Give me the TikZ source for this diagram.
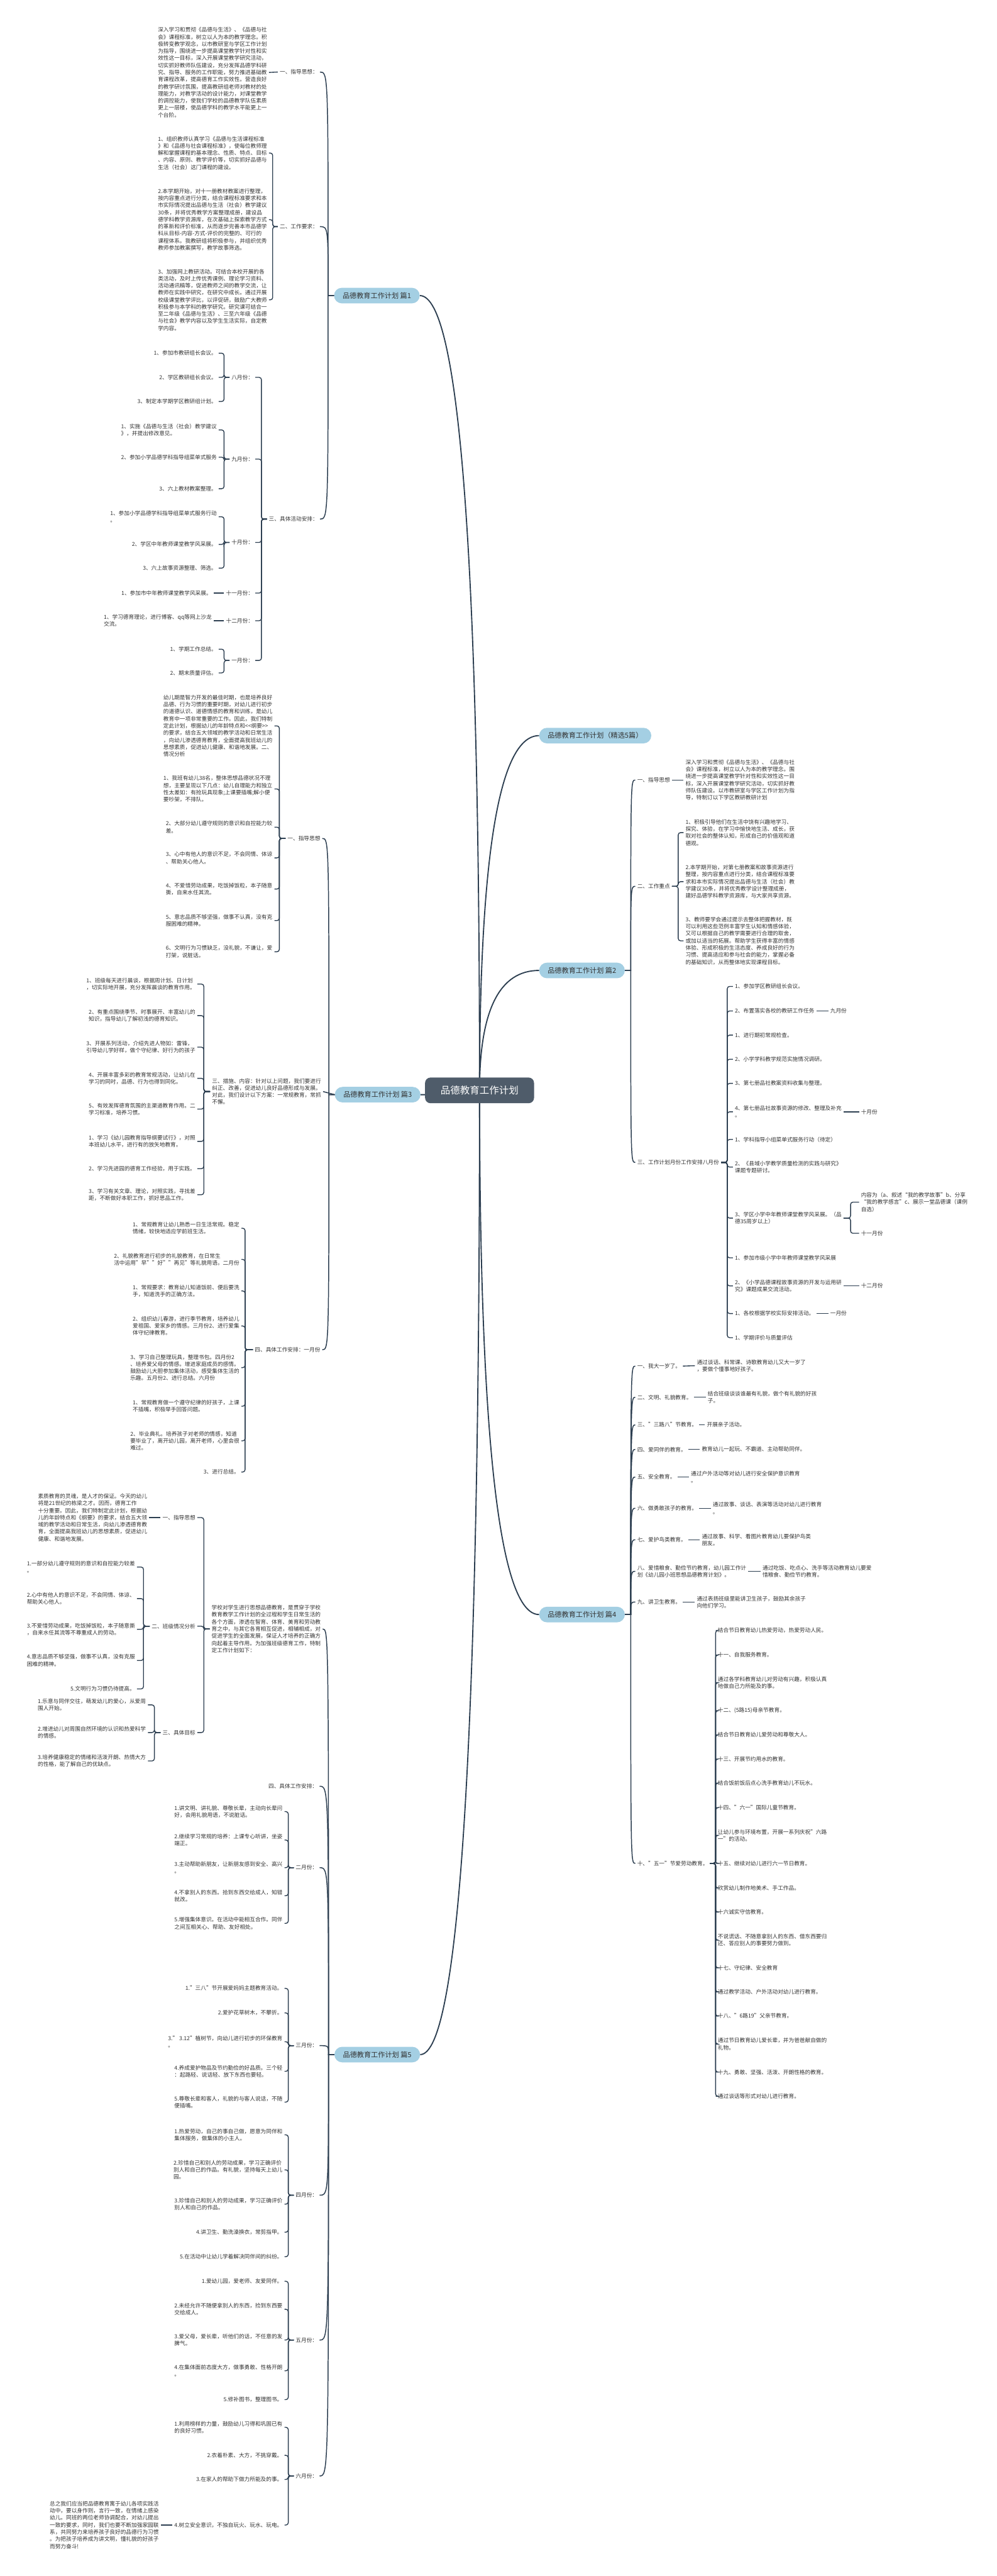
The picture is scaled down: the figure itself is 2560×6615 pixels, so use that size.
\documentclass[tikz,border=0pt]{standalone}
\usepackage{fontspec}
\setmainfont{Noto Sans CJK SC}
\usepackage{tikz}
\usetikzlibrary{backgrounds,calc}
\definecolor{clrRoot}{RGB}{79,92,106}
\definecolor{clrBranch}{RGB}{164,207,227}
\definecolor{clrLine}{RGB}{44,62,80}
\definecolor{clrTxt}{RGB}{51,51,51}
\tikzset{
  root/.style={rectangle,rounded corners=14pt,fill=clrRoot,text=white,
    font=\fontsize{25}{30}\selectfont,inner xsep=40pt,minimum height=66pt},
  branch/.style={rectangle,rounded corners=20pt,fill=clrBranch,text=clrTxt,
    font=\fontsize{18}{22}\selectfont,inner xsep=22pt,minimum height=40pt},
  topic/.style={font=\fontsize{14}{18.2}\selectfont,text=clrTxt,inner sep=5pt,align=left},
  lnote/.style={topic,anchor=east},
  rnote/.style={topic,anchor=west},
  mainlink/.style={draw=clrLine,line width=3pt},
  link/.style={draw=clrLine,line width=2.4pt},
  elbow/.style={draw=clrLine,line width=2.2pt,rounded corners=6pt}
}
\begin{document}
\begin{tikzpicture}[x=1pt,y=1pt]
  \useasboundingbox (0,0) rectangle (2560,-6615);
  \node[root] (root) at (1232,-2800) {品德教育工作计划};
  \node[branch,anchor=west] (p1) at (858,-759) {品德教育工作计划 篇1};
  \node[branch,anchor=west] (p3) at (860,-2811) {品德教育工作计划 篇3};
  \node[branch,anchor=west] (p5) at (859,-5276) {品德教育工作计划 篇5};
  \node[branch,anchor=west] (p0) at (1385,-1889) {品德教育工作计划（精选5篇）};
  \node[branch,anchor=west] (p2) at (1385,-2492) {品德教育工作计划 篇2};
  \node[branch,anchor=west] (p4) at (1385,-4146) {品德教育工作计划 篇4};
  \path (p1.west) ++(-15,0) coordinate (s1);
  \path (p3.west) ++(-15,0) coordinate (s3);
  \path (p5.west) ++(-15,0) coordinate (s5);
  \path (p2.east) ++(15,0) coordinate (s2);
  \path (p4.east) ++(15,0) coordinate (s4);

  % 篇1
  \node[lnote] (p1a) at (822,-185) {一、指导思想：};
  \node[lnote] (p1a1) at (691,-186) {深入学习和贯彻《品德与生活》、《品德与社\\会》课程标准，树立以人为本的教学理念。积\\极转变教学观念，以市教研室与学区工作计划\\为指导，围绕进一步提高课堂教学针对性和实\\效性这一目标，深入开展课堂教学研究活动，\\切实抓好教师队伍建设，充分发挥品德学科研\\究、指导、服务的工作职能，努力推进基础教\\育课程改革，提高德育工作实效性。营造良好\\的教学研讨氛围，提高教研组老师对教材的处\\理能力，对教学活动的设计能力，对课堂教学\\的调控能力，使我们学校的品德教学队伍素质\\更上一层楼，使品德学科的教学水平能更上一\\个台阶。};
  \node[lnote] (p1b) at (822,-582) {二、工作要求：};
  \node[lnote] (p1b1) at (691,-393) {1、组织教师认真学习《品德与生活课程标准\\》和《品德与社会课程标准》，使每位教师理\\解和掌握课程的基本理念、性质、特点、目标\\、内容、原则、教学评价等，切实抓好品德与\\生活（社会）这门课程的建设。};
  \node[lnote] (p1b2) at (691,-564) {2.本学期开始，对十一册教材教案进行整理，\\按内容重点进行分类，结合课程标准要求和本\\市实际情况提出品德与生活（社会）教学建议\\30条，并将优秀教学方案整理成册，建设品\\德学科教学资源库，在次基础上探索教学方式\\的革新和评价标准，从而逐步完善本市品德学\\科从目标-内容-方式-评价的完整的、可行的\\课程体系。我教研组将积极参与，并组织优秀\\教师参加教案撰写，教学故事筛选。};
  \node[lnote] (p1b3) at (691,-770) {3、加强网上教研活动。可结合本校开展的各\\类活动，及时上传优秀课例、理论学习资料、\\活动通讯稿等，促进教师之间的教学交流，让\\教师在实践中研究，在研究中成长。通过开展\\校级课堂教学评比，以评促研，鼓励广大教师\\积极参与本学科的教学研究。研究课可结合一\\至二年级《品德与生活》、三至六年级《品德\\与社会》教学内容以及学生生活实际，自定教\\学内容。};
  \node[lnote] (p1c) at (822,-1333) {三、具体活动安排：};
  \node[lnote] (p1m8) at (656,-969) {八月份：};
  \node[lnote] (p1m9) at (656,-1179) {九月份：};
  \node[lnote] (p1m10) at (656,-1393) {十月份：};
  \node[lnote] (p1m11) at (656,-1523) {十一月份：};
  \node[lnote] (p1m12) at (656,-1594) {十二月份：};
  \node[lnote] (p1m1) at (656,-1696) {一月份：};
  \node[lnote] (p1m8a) at (562,-907) {1、参加市教研组长会议。};
  \node[lnote] (p1m8b) at (562,-969) {2、学区教研组长会议。};
  \node[lnote] (p1m8c) at (562,-1031) {3、制定本学期学区教研组计划。};
  \node[lnote] (p1m9a) at (562,-1104) {1、实施《品德与生活（社会）教学建议\\》，并提出修改意见。};
  \node[lnote] (p1m9b) at (562,-1174) {2、参加小学品德学科指导组菜单式服务};
  \node[lnote] (p1m9c) at (562,-1255) {3、六上教材教案整理。};
  \node[lnote] (p1m10a) at (562,-1327) {1、参加小学品德学科指导组菜单式服务行动\\。};
  \node[lnote] (p1m10b) at (562,-1398) {2、学区中年教师课堂教学风采展。};
  \node[lnote] (p1m10c) at (562,-1459) {3、六上故事资源整理、筛选。};
  \node[lnote] (p1m11a) at (549,-1523) {1、参加市中年教师课堂教学风采展。};
  \node[lnote] (p1m12a) at (549,-1594) {1、学习德育理论，进行博客、qq等网上沙龙\\交流。};
  \node[lnote] (p1m1a) at (562,-1667) {1、学期工作总结。};
  \node[lnote] (p1m1b) at (562,-1728) {2、期末质量评估。};

  % 篇3
  \node[lnote] (p3a) at (828,-2153) {一、指导思想};
  \node[lnote] (p3a1) at (705,-1864) {幼儿期是智力开发的最佳时期，也是培养良好\\品德、行为习惯的重要时期，对幼儿进行初步\\的道德认识、道德情感的教育和训练，是幼儿\\教育中一项非常重要的工作。因此，我们特制\\定此计划，根据幼儿的年龄特点和<{}<纲要>{}>\\的要求，结合五大领域的教学活动和日常生活\\，向幼儿渗透德育教育，全面提高我班幼儿的\\思想素质，促进幼儿健康、和谐地发展。二、\\情况分析};
  \node[lnote] (p3a2) at (705,-2026) {1、我班有幼儿38名，整体思想品德状况不理\\想，主要呈现以下几点：幼儿自理能力和独立\\性太差如：有抢玩具现象;上课要插嘴;解小便\\要吵架，不排队。};
  \node[lnote] (p3a3) at (705,-2124) {2、大部分幼儿遵守规则的意识和自控能力较\\差。};
  \node[lnote] (p3a4) at (705,-2203) {3、心中有他人的意识不足，不会同情、体谅\\、帮助关心他人。};
  \node[lnote] (p3a5) at (705,-2283) {4、不爱惜劳动成果，吃饭掉饭粒，本子随意\\撕，自来水任其流。};
  \node[lnote] (p3a6) at (705,-2364) {5、意志品质不够坚强，做事不认真，没有克\\服困难的精神。};
  \node[lnote] (p3a7) at (705,-2444) {6、文明行为习惯缺乏，没礼貌，不谦让，爱\\打架，说脏话。};
  \node[lnote] (p3b) at (830,-2803) {三、措施、内容：针对以上问题，我们要进行\\纠正、改善，促进幼儿良好品德形成与发展。\\对此，我们设计以下方案：一常规教育，常抓\\不懈。};
  \node[lnote] (p3b1) at (507,-2527) {1、班级每天进行晨谈，根据周计划、日计划\\，切实际地开展，充分发挥晨谈的教育作用。};
  \node[lnote] (p3b2) at (507,-2608) {2、有重点围绕季节、时事展开、丰富幼儿的\\知识，指导幼儿了解初浅的德育知识。};
  \node[lnote] (p3b3) at (507,-2689) {3、开展系列活动，介绍先进人物如：雷锋，\\引导幼儿学好样，做个守纪律、好行为的孩子};
  \node[lnote] (p3b4) at (507,-2769) {4、开展丰富多彩的教育常规活动，让幼儿在\\学习的同时，品德、行为也得到同化。};
  \node[lnote] (p3b5) at (507,-2848) {5、有效发挥德育氛围的主渠道教育作用。二\\学习标准，培养习惯。};
  \node[lnote] (p3b6) at (507,-2931) {1、学习《幼儿园教育指导纲要试行》，对照\\本班幼儿水平，进行有的放矢地教育。};
  \node[lnote] (p3b7) at (507,-3001) {2、学习先进园的德育工作经验，用于实践。};
  \node[lnote] (p3b8) at (507,-3068) {3、学习有关文章、理论，对照实践，寻找差\\距，不断做好本职工作，抓好思品工作。};
  \node[lnote] (p3c) at (828,-3466) {四、具体工作安排：一月份};
  \node[lnote] (p3c1) at (620,-3154) {1、常规教育让幼儿熟悉一日生活常规。稳定\\情绪，较快地适应学前班生活。};
  \node[lnote] (p3c2) at (620,-3234) {2、礼貌教育进行初步的礼貌教育，在日常生\\活中运用"早""好""再见"等礼貌用语。二月份};
  \node[lnote] (p3c3) at (620,-3315) {1、常规要求：教育幼儿知道饭前、便后要洗\\手，知道洗手的正确方法。};
  \node[lnote] (p3c4) at (620,-3405) {2、组织幼儿春游，进行季节教育，培养幼儿\\爱祖国、爱家乡的情感。三月份2、进行爱集\\体守纪律教育。};
  \node[lnote] (p3c5) at (620,-3512) {3、学习自己整理玩具，整理书包。四月份2\\、培养爱父母的情感。增进家庭成员的感情。\\鼓励幼儿大胆参加集体活动，感受集体生活的\\乐趣。五月份2、进行总结。六月份};
  \node[lnote] (p3c6) at (620,-3611) {1、常规教育做一个遵守纪律的好孩子，上课\\不插嘴，积极举手回答问题。};
  \node[lnote] (p3c7) at (620,-3700) {2、毕业典礼。培养孩子对老师的情感，知道\\要毕业了，离开幼儿园，离开老师，心里会很\\难过。};
  \node[lnote] (p3c8) at (620,-3780) {3、进行总结。};

  % 篇5
  \node[lnote] (p5a) at (829,-4183) {学校对学生进行思想品德教育，是贯穿于学校\\教育教学工作计划的全过程和学生日常生活的\\各个方面，渗透在智育、体育、美育和劳动教\\育之中，与其它各育相互促进，相辅相成，对\\促进学生的全面发展，保证人才培养的正确方\\向起着主导作用。为加强班级德育工作，特制\\定工作计划如下：};
  \node[lnote] (p5a1) at (507,-3897) {一、指导思想};
  \node[lnote] (p5a1a) at (383,-3897) {素质教育的灵魂，是人才的保证。今天的幼儿\\将是21世纪的栋梁之才。因而，德育工作\\十分重要。因此，我们特制定此计划，根据幼\\儿的年龄特点和《纲要》的要求，结合五大领\\域的教学活动和日常生活，向幼儿渗透德育教\\育，全面提高我班幼儿的思想素质，促进幼儿\\健康、和谐地发展。};
  \node[lnote] (p5a2) at (507,-4176) {二、班级情况分析};
  \node[lnote] (p5a21) at (352,-4024) {1.一部分幼儿遵守规则的意识和自控能力较差\\。};
  \node[lnote] (p5a22) at (352,-4105) {2.心中有他人的意识不足，不会同情、体谅、\\帮助关心他人。};
  \node[lnote] (p5a23) at (352,-4184) {3.不爱惜劳动成果，吃饭掉饭粒，本子随意撕\\，自来水任其流等不尊重成人的劳动。};
  \node[lnote] (p5a24) at (352,-4264) {4.意志品质不够坚强，做事不认真，没有克服\\困难的精神。};
  \node[lnote] (p5a25) at (352,-4337) {5.文明行为习惯仍待提高。};
  \node[lnote] (p5a3) at (507,-4449) {三、具体目标};
  \node[lnote] (p5a31) at (380,-4378) {1.乐意与同伴交往，萌发幼儿的爱心，从爱周\\围人开始。};
  \node[lnote] (p5a32) at (380,-4449) {2.增进幼儿对周围自然环境的认识和热爱科学\\的情感。};
  \node[lnote] (p5a33) at (380,-4522) {3.培养健康稳定的情绪和活泼开朗、热情大方\\的性格，能了解自己的优缺点。};
  \node[lnote] (p5b) at (821,-4587) {四、具体工作安排：};
  \node[lnote] (p5m2) at (821,-4796) {二月份：};
  \node[lnote] (p5m21) at (731,-4652) {1.讲文明、讲礼貌、尊敬长辈，主动向长辈问\\好，会用礼貌用语，不说脏话。};
  \node[lnote] (p5m22) at (731,-4725) {2.继续学习常规的培养：上课专心听讲，坐姿\\端正。};
  \node[lnote] (p5m23) at (731,-4796) {3.主动帮助新朋友，让新朋友感到安全、高兴\\。};
  \node[lnote] (p5m24) at (731,-4868) {4.不拿别人的东西。拾到东西交给成人，知错\\就改。};
  \node[lnote] (p5m25) at (731,-4939) {5.增强集体意识。在活动中能相互合作。同伴\\之间互相关心、帮助、友好相处。};
  \node[lnote] (p5m3) at (821,-5253) {三月份：};
  \node[lnote] (p5m31) at (731,-5106) {1."三八"节开展爱妈妈主题教育活动。};
  \node[lnote] (p5m32) at (731,-5169) {2.爱护花草树木，不攀折。};
  \node[lnote] (p5m33) at (731,-5243) {3." 3.12"植树节，向幼儿进行初步的环保教育\\。};
  \node[lnote] (p5m34) at (731,-5319) {4.养成爱护物品及节约勤俭的好品质。三个轻\\：起路轻、说话轻、放下东西也要轻。};
  \node[lnote] (p5m35) at (731,-5398) {5.尊敬长辈和客人，礼貌的与客人说话，不随\\便插嘴。};
  \node[lnote] (p5m4) at (821,-5637) {四月份：};
  \node[lnote] (p5m41) at (731,-5482) {1.热爱劳动，自己的事自己做，愿意为同伴和\\集体服务，做集体的小主人。};
  \node[lnote] (p5m42) at (731,-5572) {2.珍惜自己和别人的劳动成果，学习正确评价\\别人和自己的作品。有礼貌，坚持每天上幼儿\\园。};
  \node[lnote] (p5m43) at (731,-5660) {3.珍惜自己和别人的劳动成果，学习正确评价\\别人和自己的作品。};
  \node[lnote] (p5m44) at (731,-5732) {4.讲卫生、勤洗澡换衣，常剪指甲。};
  \node[lnote] (p5m45) at (731,-5795) {5.在活动中让幼儿学着解决同伴间的纠纷。};
  \node[lnote] (p5m5) at (821,-6009) {五月份：};
  \node[lnote] (p5m51) at (731,-5858) {1.爱幼儿园，爱老师、友爱同伴。};
  \node[lnote] (p5m52) at (731,-5930) {2.未经允许不随便拿别人的东西，捡到东西要\\交给成人。};
  \node[lnote] (p5m53) at (731,-6009) {3.爱父母，爱长辈，听他们的话，不任意的发\\脾气。};
  \node[lnote] (p5m54) at (731,-6088) {4.在集体面前态度大方，做事勇敢、性格开朗\\。};
  \node[lnote] (p5m55) at (731,-6162) {5.修补图书，整理图书。};
  \node[lnote] (p5m6) at (821,-6358) {六月份：};
  \node[lnote] (p5m61) at (731,-6233) {1.利用榜样的力量，鼓励幼儿习得和巩固已有\\的良好习惯。};
  \node[lnote] (p5m62) at (731,-6305) {2.衣着朴素、大方，不挑穿戴。};
  \node[lnote] (p5m63) at (731,-6367) {3.在家人的帮助下做力所能及的事。};
  \node[lnote] (p5m64) at (731,-6484) {4.树立安全意识，不独自玩火、玩水、玩电。};
  \node[lnote] (p5m64a) at (413,-6484) {总之我们应当把品德教育寓于幼儿各项实践活\\动中，要以身作则，言行一致，在情绪上感染\\幼儿。同班的两位老师协调配合，对幼儿提出\\一致的要求，同时，我们也要不断加强家园联\\系，共同努力来培养孩子良好的品德行为习惯\\。为把孩子培养成为讲文明，懂礼貌的好孩子\\而努力奋斗!};

  % 篇2
  \node[rnote] (p2a) at (1632,-2003) {一、指导思想};
  \node[rnote] (p2a1) at (1756,-2003) {深入学习和贯彻《品德与生活》、《品德与社\\会》课程标准，树立以人为本的教学理念。围\\绕进一步提高课堂教学针对性和实效性这一目\\标，深入开展课堂教学研究活动，切实抓好教\\师队伍建设。以市教研室与学区工作计划为指\\导，特制订以下学区教研教研计划};
  \node[rnote] (p2b) at (1632,-2276) {二、工作重点};
  \node[rnote] (p2b1) at (1756,-2138) {1、积极引导他们在生活中饶有兴趣地学习、\\探究、体验，在学习中愉快地生活、成长，获\\取对社会的整体认知，形成自己的价值观和道\\德观。};
  \node[rnote] (p2b2) at (1756,-2264) {2.本学期开始，对第七册教案和故事资源进行\\整理，按内容重点进行分类，结合课程标准要\\求和本市实际情况提出品德与生活（社会）教\\学建议30条，并将优秀教学设计整理成册，\\建好品德学科教学资源库，与大家共享资源。};
  \node[rnote] (p2b3) at (1756,-2416) {3、教师要学会通过提示去整体把握教材，既\\可以利用这些范例丰富学生认知和情感体验，\\又可以根据自己的教学需要进行合理的取舍，\\或加以适当的拓展。帮助学生获得丰富的情感\\体验、形成积极的生活态度、养成良好的行为\\习惯、提高适应和参与社会的能力，掌握必备\\的基础知识，从而整体地实现课程目标。};
  \node[rnote] (p2c) at (1632,-2985) {三、工作计划月份工作安排八月份};
  \node[rnote] (p2c1) at (1883,-2533) {1、参加学区教研组长会议。};
  \node[rnote] (p2c2) at (1883,-2596) {2、布置落实各校的教研工作任务};
  \node[rnote] (p2c3) at (1883,-2658) {1、进行期初常规检查。};
  \node[rnote] (p2c4) at (1883,-2720) {2、小学学科教学规范实施情况调研。};
  \node[rnote] (p2c5) at (1883,-2782) {3、第七册品社教案资料收集与整理。};
  \node[rnote] (p2c6) at (1883,-2855) {4、第七册品社故事资源的修改、整理及补充\\。};
  \node[rnote] (p2c7) at (1883,-2926) {1、学科指导小组菜单式服务行动（待定）};
  \node[rnote] (p2c8) at (1883,-2997) {2、《县域小学教学质量检测的实践与研究》\\课题专题研讨。};
  \node[rnote] (p2c9) at (1883,-3128) {3、学区小学中年教师课堂教学风采展。（品\\德35周岁以上）};
  \node[rnote] (p2c10) at (1883,-3230) {1、参加市级小学中年教师课堂教学风采展};
  \node[rnote] (p2c11) at (1883,-3302) {2、《小学品德课程故事资源的开发与运用研\\究》课题成果交流活动。};
  \node[rnote] (p2c12) at (1883,-3373) {1、各校根据学校实际安排活动。};
  \node[rnote] (p2c13) at (1883,-3435) {1、学期评价与质量评估};
  \node[rnote] (p2c2m) at (2128,-2596) {九月份};
  \node[rnote] (p2c6m) at (2207,-2855) {十月份};
  \node[rnote] (p2c9a) at (2207,-3087) {内容为（a、叙述“我的教学故事”b、分享\\“我的教学感言”c、展示一堂品德课（课例\\自选）};
  \node[rnote] (p2c9b) at (2207,-3167) {十一月份};
  \node[rnote] (p2c11m) at (2207,-3302) {十二月份};
  \node[rnote] (p2c12m) at (2128,-3373) {一月份};

  % 篇4
  \node[rnote] (p4a) at (1632,-3508) {一、我大一岁了。};
  \node[rnote] (p4a1) at (1785,-3507) {通过谈话、科常课、诗歌教育幼儿又大一岁了\\，要做个懂事地好孩子。};
  \node[rnote] (p4b) at (1632,-3588) {二、文明、礼貌教育。};
  \node[rnote] (p4b1) at (1813,-3588) {结合班级谈谈谁最有礼貌，做个有礼貌的好孩\\子。};
  \node[rnote] (p4c) at (1632,-3659) {三、"三路八"节教育。};
  \node[rnote] (p4c1) at (1811,-3659) {开展亲子活动。};
  \node[rnote] (p4d) at (1632,-3722) {四、爱同伴的教育。};
  \node[rnote] (p4d1) at (1798,-3722) {教育幼儿一起玩、不霸道、主动帮助同伴。};
  \node[rnote] (p4e) at (1632,-3793) {五、安全教育。};
  \node[rnote] (p4e1) at (1770,-3793) {通过户外活动等对幼儿进行安全保护意识教育\\。};
  \node[rnote] (p4f) at (1632,-3873) {六、做勇敢孩子的教育。};
  \node[rnote] (p4f1) at (1826,-3873) {通过故事、谈话、表演等活动对幼儿进行教育\\。};
  \node[rnote] (p4g) at (1632,-3954) {七、爱护鸟类教育。};
  \node[rnote] (p4g1) at (1798,-3954) {通过故事、科学、看图片教育幼儿要保护鸟类\\朋友。};
  \node[rnote] (p4h) at (1632,-4035) {八、爱惜粮食、勤俭节约教育，幼儿园工作计\\划《幼儿园小班思想品德教育计划》。};
  \node[rnote] (p4h1) at (1954,-4035) {通过吃饭、吃点心、洗手等活动教育幼儿要爱\\惜粮食、勤俭节约教育。};
  \node[rnote] (p4i) at (1632,-4114) {九、讲卫生教育。};
  \node[rnote] (p4i1) at (1785,-4114) {通过表扬班级里能讲卫生孩子，鼓励其余孩子\\向他们学习。};
  \node[rnote] (p4j) at (1632,-4785) {十、"五一"节爱劳动教育。};
  \node[rnote] (p4j1) at (1839,-4187) {结合节日教育幼儿热爱劳动，热爱劳动人民。};
  \node[rnote] (p4j2) at (1839,-4250) {十一、自我服务教育。};
  \node[rnote] (p4j3) at (1839,-4321) {通过各学科教育幼儿对劳动有兴趣，积极认真\\地做自己力所能及的事。};
  \node[rnote] (p4j4) at (1839,-4393) {十二、(5路15)母亲节教育。};
  \node[rnote] (p4j5) at (1839,-4455) {结合节日教育幼儿爱劳动和尊敬大人。};
  \node[rnote] (p4j6) at (1839,-4517) {十三、开展节约用水的教育。};
  \node[rnote] (p4j7) at (1839,-4579) {结合饭前饭后点心洗手教育幼儿不玩水。};
  \node[rnote] (p4j8) at (1839,-4642) {十四、"六一"国际儿童节教育。};
  \node[rnote] (p4j9) at (1839,-4713) {让幼儿参与环境布置，开展一系列庆祝"六路\\一"的活动。};
  \node[rnote] (p4j10) at (1839,-4785) {十五、继续对幼儿进行六一节日教育。};
  \node[rnote] (p4j11) at (1839,-4848) {欣赏幼儿制作地美术、手工作品。};
  \node[rnote] (p4j12) at (1839,-4910) {十六诚实守信教育。};
  \node[rnote] (p4j13) at (1839,-4982) {不说谎话、不随意拿别人的东西、借东西要归\\还、答应别人的事要努力做到。};
  \node[rnote] (p4j14) at (1839,-5053) {十七、守纪律、安全教育};
  \node[rnote] (p4j15) at (1839,-5115) {通过教学活动、户外活动对幼儿进行教育。};
  \node[rnote] (p4j16) at (1839,-5177) {十八、"6路19"父亲节教育。};
  \node[rnote] (p4j17) at (1839,-5249) {通过节日教育幼儿爱长辈，并为爸爸献自做的\\礼物。};
  \node[rnote] (p4j18) at (1839,-5321) {十九、勇敢、坚强、活泼、开朗性格的教育。};
  \node[rnote] (p4j19) at (1839,-5383) {通过谈话等形式对幼儿进行教育。};

  % curves from the root, drawn under it
  \coordinate (k1) at (root.center |- p1.east);
  \coordinate (k3) at (root.center |- p3.east);
  \coordinate (k5) at (root.center |- p5.east);
  \coordinate (k0) at (root.center |- p0.west);
  \coordinate (k2) at (root.center |- p2.west);
  \coordinate (k4) at (root.center |- p4.west);
  \begin{pgfonlayer}{background}
    \fill[white] (0,0) rectangle (2560,-6615);
    \draw[mainlink] (root.center) .. controls ($(root.center)!0.667!(k1)$) and ($(p1.east)!0.667!(k1)$) .. (p1.east);
    \draw[mainlink] (root.center) .. controls ($(root.center)!0.667!(k3)$) and ($(p3.east)!0.667!(k3)$) .. (p3.east);
    \draw[mainlink] (root.center) .. controls ($(root.center)!0.667!(k5)$) and ($(p5.east)!0.667!(k5)$) .. (p5.east);
    \draw[mainlink] (root.center) .. controls ($(root.center)!0.667!(k0)$) and ($(p0.west)!0.667!(k0)$) .. (p0.west);
    \draw[mainlink] (root.center) .. controls ($(root.center)!0.667!(k2)$) and ($(p2.west)!0.667!(k2)$) .. (p2.west);
    \draw[mainlink] (root.center) .. controls ($(root.center)!0.667!(k4)$) and ($(p4.west)!0.667!(k4)$) .. (p4.west);
  \end{pgfonlayer}

  % 篇1 connectors
  \draw[link] (p1.west) -- (s1) .. controls (s1 |- p1a.east) .. (p1a.east);
  \draw[link] (p1.west) -- (s1) .. controls (s1 |- p1b.east) .. (p1b.east);
  \draw[link] (p1.west) -- (s1) .. controls (s1 |- p1c.east) .. (p1c.east);
  \draw[elbow] (p1a.west) -- (p1a1.east);
  \draw[elbow] (p1b.west) -- ++(-13,0) |- (p1b1.east);
  \draw[elbow] (p1b.west) -- ++(-13,0) |- (p1b2.east);
  \draw[elbow] (p1b.west) -- ++(-13,0) |- (p1b3.east);
  \draw[elbow] (p1c.west) -- ++(-14,0) |- (p1m8.east);
  \draw[elbow] (p1c.west) -- ++(-14,0) |- (p1m9.east);
  \draw[elbow] (p1c.west) -- ++(-14,0) |- (p1m10.east);
  \draw[elbow] (p1c.west) -- ++(-14,0) |- (p1m11.east);
  \draw[elbow] (p1c.west) -- ++(-14,0) |- (p1m12.east);
  \draw[elbow] (p1c.west) -- ++(-14,0) |- (p1m1.east);
  \draw[elbow] (p1m8.west) -- ++(-14,0) |- (p1m8a.east);
  \draw[elbow] (p1m8.west) -- ++(-14,0) |- (p1m8b.east);
  \draw[elbow] (p1m8.west) -- ++(-14,0) |- (p1m8c.east);
  \draw[elbow] (p1m9.west) -- ++(-14,0) |- (p1m9a.east);
  \draw[elbow] (p1m9.west) -- ++(-14,0) |- (p1m9b.east);
  \draw[elbow] (p1m9.west) -- ++(-14,0) |- (p1m9c.east);
  \draw[elbow] (p1m10.west) -- ++(-14,0) |- (p1m10a.east);
  \draw[elbow] (p1m10.west) -- ++(-14,0) |- (p1m10b.east);
  \draw[elbow] (p1m10.west) -- ++(-14,0) |- (p1m10c.east);
  \draw[elbow] (p1m11.west) -- (p1m11a.east);
  \draw[elbow] (p1m12.west) -- (p1m12a.east);
  \draw[elbow] (p1m1.west) -- ++(-14,0) |- (p1m1a.east);
  \draw[elbow] (p1m1.west) -- ++(-14,0) |- (p1m1b.east);

  % 篇3 connectors
  \draw[link] (p3.west) -- (s3) .. controls (s3 |- p3a.east) .. (p3a.east);
  \draw[link] (p3.west) -- (p3b.east);
  \draw[link] (p3.west) -- (s3) .. controls (s3 |- p3c.east) .. (p3c.east);
  \draw[elbow] (p3a.west) -- ++(-16,0) |- (p3a1.east);
  \draw[elbow] (p3a.west) -- ++(-16,0) |- (p3a2.east);
  \draw[elbow] (p3a.west) -- ++(-16,0) |- (p3a3.east);
  \draw[elbow] (p3a.west) -- ++(-16,0) |- (p3a4.east);
  \draw[elbow] (p3a.west) -- ++(-16,0) |- (p3a5.east);
  \draw[elbow] (p3a.west) -- ++(-16,0) |- (p3a6.east);
  \draw[elbow] (p3a.west) -- ++(-16,0) |- (p3a7.east);
  \draw[elbow] (p3b.west) -- ++(-16,0) |- (p3b1.east);
  \draw[elbow] (p3b.west) -- ++(-16,0) |- (p3b2.east);
  \draw[elbow] (p3b.west) -- ++(-16,0) |- (p3b3.east);
  \draw[elbow] (p3b.west) -- ++(-16,0) |- (p3b4.east);
  \draw[elbow] (p3b.west) -- ++(-16,0) |- (p3b5.east);
  \draw[elbow] (p3b.west) -- ++(-16,0) |- (p3b6.east);
  \draw[elbow] (p3b.west) -- ++(-16,0) |- (p3b7.east);
  \draw[elbow] (p3b.west) -- ++(-16,0) |- (p3b8.east);
  \draw[elbow] (p3c.west) -- ++(-20,0) |- (p3c1.east);
  \draw[elbow] (p3c.west) -- ++(-20,0) |- (p3c2.east);
  \draw[elbow] (p3c.west) -- ++(-20,0) |- (p3c3.east);
  \draw[elbow] (p3c.west) -- ++(-20,0) |- (p3c4.east);
  \draw[elbow] (p3c.west) -- ++(-20,0) |- (p3c5.east);
  \draw[elbow] (p3c.west) -- ++(-20,0) |- (p3c6.east);
  \draw[elbow] (p3c.west) -- ++(-20,0) |- (p3c7.east);
  \draw[elbow] (p3c.west) -- ++(-20,0) |- (p3c8.east);

  % 篇5 connectors
  \draw[link] (p5.west) -- (s5) .. controls (s5 |- p5a.east) .. (p5a.east);
  \draw[link] (p5.west) -- (s5) .. controls (s5 |- p5b.east) .. (p5b.east);
  \draw[link] (p5.west) -- (s5) .. controls (s5 |- p5m2.east) .. (p5m2.east);
  \draw[link] (p5.west) -- (s5) .. controls (s5 |- p5m3.east) .. (p5m3.east);
  \draw[link] (p5.west) -- (s5) .. controls (s5 |- p5m4.east) .. (p5m4.east);
  \draw[link] (p5.west) -- (s5) .. controls (s5 |- p5m5.east) .. (p5m5.east);
  \draw[link] (p5.west) -- (s5) .. controls (s5 |- p5m6.east) .. (p5m6.east);
  \draw[elbow] (p5a.west) -- ++(-15,0) |- (p5a1.east);
  \draw[elbow] (p5a.west) -- ++(-15,0) |- (p5a2.east);
  \draw[elbow] (p5a.west) -- ++(-15,0) |- (p5a3.east);
  \draw[elbow] (p5a1.west) -- (p5a1a.east);
  \draw[elbow] (p5a2.west) -- ++(-16,0) |- (p5a21.east);
  \draw[elbow] (p5a2.west) -- ++(-16,0) |- (p5a22.east);
  \draw[elbow] (p5a2.west) -- ++(-16,0) |- (p5a23.east);
  \draw[elbow] (p5a2.west) -- ++(-16,0) |- (p5a24.east);
  \draw[elbow] (p5a2.west) -- ++(-16,0) |- (p5a25.east);
  \draw[elbow] (p5a3.west) -- ++(-16,0) |- (p5a31.east);
  \draw[elbow] (p5a3.west) -- ++(-16,0) |- (p5a32.east);
  \draw[elbow] (p5a3.west) -- ++(-16,0) |- (p5a33.east);
  \draw[elbow] (p5m2.west) -- ++(-14,0) |- (p5m21.east);
  \draw[elbow] (p5m2.west) -- ++(-14,0) |- (p5m22.east);
  \draw[elbow] (p5m2.west) -- ++(-14,0) |- (p5m23.east);
  \draw[elbow] (p5m2.west) -- ++(-14,0) |- (p5m24.east);
  \draw[elbow] (p5m2.west) -- ++(-14,0) |- (p5m25.east);
  \draw[elbow] (p5m3.west) -- ++(-14,0) |- (p5m31.east);
  \draw[elbow] (p5m3.west) -- ++(-14,0) |- (p5m32.east);
  \draw[elbow] (p5m3.west) -- ++(-14,0) |- (p5m33.east);
  \draw[elbow] (p5m3.west) -- ++(-14,0) |- (p5m34.east);
  \draw[elbow] (p5m3.west) -- ++(-14,0) |- (p5m35.east);
  \draw[elbow] (p5m4.west) -- ++(-14,0) |- (p5m41.east);
  \draw[elbow] (p5m4.west) -- ++(-14,0) |- (p5m42.east);
  \draw[elbow] (p5m4.west) -- ++(-14,0) |- (p5m43.east);
  \draw[elbow] (p5m4.west) -- ++(-14,0) |- (p5m44.east);
  \draw[elbow] (p5m4.west) -- ++(-14,0) |- (p5m45.east);
  \draw[elbow] (p5m5.west) -- ++(-14,0) |- (p5m51.east);
  \draw[elbow] (p5m5.west) -- ++(-14,0) |- (p5m52.east);
  \draw[elbow] (p5m5.west) -- ++(-14,0) |- (p5m53.east);
  \draw[elbow] (p5m5.west) -- ++(-14,0) |- (p5m54.east);
  \draw[elbow] (p5m5.west) -- ++(-14,0) |- (p5m55.east);
  \draw[elbow] (p5m6.west) -- ++(-14,0) |- (p5m61.east);
  \draw[elbow] (p5m6.west) -- ++(-14,0) |- (p5m62.east);
  \draw[elbow] (p5m6.west) -- ++(-14,0) |- (p5m63.east);
  \draw[elbow] (p5m6.west) -- ++(-14,0) |- (p5m64.east);
  \draw[elbow] (p5m64.west) -- (p5m64a.east);

  % 篇2 connectors
  \draw[link] (p2.east) -- (s2) .. controls (s2 |- p2a.west) .. (p2a.west);
  \draw[link] (p2.east) -- (s2) .. controls (s2 |- p2b.west) .. (p2b.west);
  \draw[link] (p2.east) -- (s2) .. controls (s2 |- p2c.west) .. (p2c.west);
  \draw[elbow] (p2a.east) -- (p2a1.west);
  \draw[elbow] (p2b.east) -- ++(16,0) |- (p2b1.west);
  \draw[elbow] (p2b.east) -- ++(16,0) |- (p2b2.west);
  \draw[elbow] (p2b.east) -- ++(16,0) |- (p2b3.west);
  \draw[elbow] (p2c.east) -- ++(16,0) |- (p2c1.west);
  \draw[elbow] (p2c.east) -- ++(16,0) |- (p2c2.west);
  \draw[elbow] (p2c.east) -- ++(16,0) |- (p2c3.west);
  \draw[elbow] (p2c.east) -- ++(16,0) |- (p2c4.west);
  \draw[elbow] (p2c.east) -- ++(16,0) |- (p2c5.west);
  \draw[elbow] (p2c.east) -- ++(16,0) |- (p2c6.west);
  \draw[elbow] (p2c.east) -- ++(16,0) |- (p2c7.west);
  \draw[elbow] (p2c.east) -- ++(16,0) |- (p2c8.west);
  \draw[elbow] (p2c.east) -- ++(16,0) |- (p2c9.west);
  \draw[elbow] (p2c.east) -- ++(16,0) |- (p2c10.west);
  \draw[elbow] (p2c.east) -- ++(16,0) |- (p2c11.west);
  \draw[elbow] (p2c.east) -- ++(16,0) |- (p2c12.west);
  \draw[elbow] (p2c.east) -- ++(16,0) |- (p2c13.west);
  \draw[elbow] (p2c2.east) -- (p2c2m.west);
  \draw[elbow] (p2c6.east) -- (p2c6m.west);
  \draw[elbow] (p2c9.east) -- ++(18,0) |- (p2c9a.west);
  \draw[elbow] (p2c9.east) -- ++(18,0) |- (p2c9b.west);
  \draw[elbow] (p2c11.east) -- (p2c11m.west);
  \draw[elbow] (p2c12.east) -- (p2c12m.west);

  % 篇4 connectors
  \draw[link] (p4.east) -- (s4) .. controls (s4 |- p4a.west) .. (p4a.west);
  \draw[link] (p4.east) -- (s4) .. controls (s4 |- p4b.west) .. (p4b.west);
  \draw[link] (p4.east) -- (s4) .. controls (s4 |- p4c.west) .. (p4c.west);
  \draw[link] (p4.east) -- (s4) .. controls (s4 |- p4d.west) .. (p4d.west);
  \draw[link] (p4.east) -- (s4) .. controls (s4 |- p4e.west) .. (p4e.west);
  \draw[link] (p4.east) -- (s4) .. controls (s4 |- p4f.west) .. (p4f.west);
  \draw[link] (p4.east) -- (s4) .. controls (s4 |- p4g.west) .. (p4g.west);
  \draw[link] (p4.east) -- (s4) .. controls (s4 |- p4h.west) .. (p4h.west);
  \draw[link] (p4.east) -- (s4) .. controls (s4 |- p4i.west) .. (p4i.west);
  \draw[link] (p4.east) -- (s4) .. controls (s4 |- p4j.west) .. (p4j.west);
  \draw[elbow] (p4a.east) -- (p4a1.west);
  \draw[elbow] (p4b.east) -- (p4b1.west);
  \draw[elbow] (p4c.east) -- (p4c1.west);
  \draw[elbow] (p4d.east) -- (p4d1.west);
  \draw[elbow] (p4e.east) -- (p4e1.west);
  \draw[elbow] (p4f.east) -- (p4f1.west);
  \draw[elbow] (p4g.east) -- (p4g1.west);
  \draw[elbow] (p4h.east) -- (p4h1.west);
  \draw[elbow] (p4i.east) -- (p4i1.west);
  \draw[elbow] (p4j.east) -- ++(14,0) |- (p4j1.west);
  \draw[elbow] (p4j.east) -- ++(14,0) |- (p4j2.west);
  \draw[elbow] (p4j.east) -- ++(14,0) |- (p4j3.west);
  \draw[elbow] (p4j.east) -- ++(14,0) |- (p4j4.west);
  \draw[elbow] (p4j.east) -- ++(14,0) |- (p4j5.west);
  \draw[elbow] (p4j.east) -- ++(14,0) |- (p4j6.west);
  \draw[elbow] (p4j.east) -- ++(14,0) |- (p4j7.west);
  \draw[elbow] (p4j.east) -- ++(14,0) |- (p4j8.west);
  \draw[elbow] (p4j.east) -- ++(14,0) |- (p4j9.west);
  \draw[elbow] (p4j.east) -- ++(14,0) |- (p4j10.west);
  \draw[elbow] (p4j.east) -- ++(14,0) |- (p4j11.west);
  \draw[elbow] (p4j.east) -- ++(14,0) |- (p4j12.west);
  \draw[elbow] (p4j.east) -- ++(14,0) |- (p4j13.west);
  \draw[elbow] (p4j.east) -- ++(14,0) |- (p4j14.west);
  \draw[elbow] (p4j.east) -- ++(14,0) |- (p4j15.west);
  \draw[elbow] (p4j.east) -- ++(14,0) |- (p4j16.west);
  \draw[elbow] (p4j.east) -- ++(14,0) |- (p4j17.west);
  \draw[elbow] (p4j.east) -- ++(14,0) |- (p4j18.west);
  \draw[elbow] (p4j.east) -- ++(14,0) |- (p4j19.west);
\end{tikzpicture}
\end{document}
